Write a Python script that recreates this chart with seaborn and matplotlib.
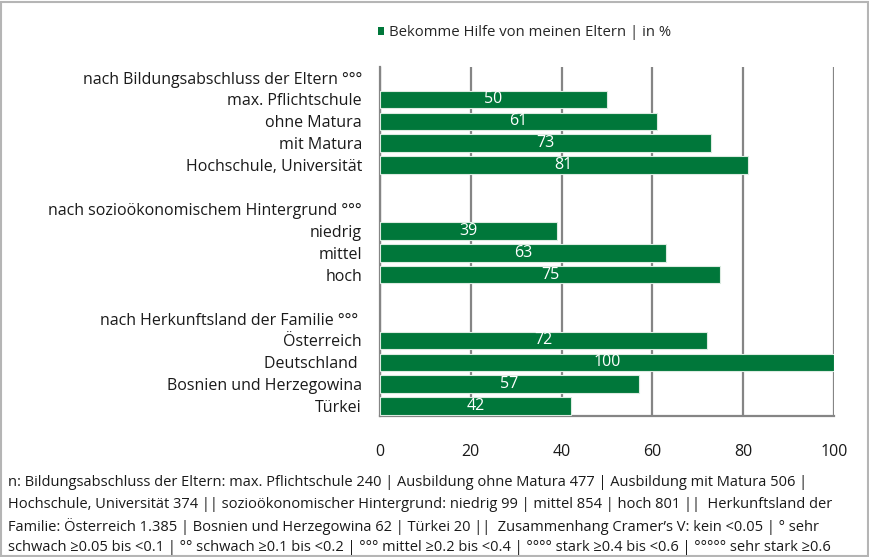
import numpy as np
import pandas as pd
import matplotlib
matplotlib.use("Agg")
import matplotlib.pyplot as plt
from matplotlib.patches import Rectangle, Patch
import seaborn as sns

# ---- data ----
row_labels = [
    "nach Bildungsabschluss der Eltern °°°",
    "max. Pflichtschule",
    "ohne Matura",
    "mit Matura",
    "Hochschule, Universität",
    " ",
    "nach sozioökonomischem Hintergrund °°°",
    "niedrig",
    "mittel",
    "hoch",
    "  ",
    "nach Herkunftsland der Familie °°° ",
    "Österreich",
    "Deutschland ",
    "Bosnien und Herzegowina",
    "Türkei",
]
bar_labels = [
    "max. Pflichtschule", "ohne Matura", "mit Matura", "Hochschule, Universität",
    "niedrig", "mittel", "hoch",
    "Österreich", "Deutschland ", "Bosnien und Herzegowina", "Türkei",
]
bar_values = [50, 61, 73, 81, 39, 63, 75, 72, 100, 57, 42]
x_ticks = [0, 20, 40, 60, 80, 100]
series_name = "Bekomme Hilfe von meinen Eltern | in %"
footnote_lines = [
    "n: Bildungsabschluss der Eltern: max. Pflichtschule 240 | Ausbildung ohne Matura 477 | Ausbildung mit Matura 506 |",
    "Hochschule, Universität 374 || sozioökonomischer Hintergrund: niedrig 99 | mittel 854 | hoch 801 ||  Herkunftsland der",
    "Familie: Österreich 1.385 | Bosnien und Herzegowina 62 | Türkei 20 ||  Zusammenhang Cramer’s V: kein <0.05 | ° sehr",
    "schwach ≥0.05 bis <0.1 | °° schwach ≥0.1 bis <0.2 | °°° mittel ≥0.2 bis <0.4 | °°°° stark ≥0.4 bis <0.6 | °°°°° sehr stark ≥0.6",
]

GREEN = "#00773a"
GRID = "#858585"

sns.set_style("white")
plt.rcParams["font.family"] = ["Open Sans", "DejaVu Sans"]

df = pd.DataFrame({"label": bar_labels, "value": bar_values})

fig = plt.figure(figsize=(8.7, 5.57), dpi=100)
W, H = 870, 557
ax = fig.add_axes([380 / W, 1 - 416 / H, (834 - 380) / W, (416 - 67) / H])

sns.barplot(data=df, x="value", y="label", order=row_labels, color=GREEN,
            width=0.8, edgecolor="#dcebe1", linewidth=0.8, saturation=1,
            ax=ax, zorder=3)
leg = ax.get_legend()
if leg is not None:
    leg.remove()

for cont in ax.containers:
    ax.bar_label(cont, labels=[f"{v:g}" for v in bar_values], label_type="center",
                 color="white", fontsize=11.5, padding=0)

ax.set_xlim(0, 100)
ax.set_ylim(15.45, -0.48)
ax.set_xticks(x_ticks)
ax.set_xticklabels([str(t) for t in x_ticks])
ax.set_xlabel("")
ax.set_ylabel("")
ax.tick_params(axis="x", length=0, pad=20, labelsize=11.5, colors="#1a1a1a")
ax.tick_params(axis="y", length=0, pad=13, labelsize=11.5, colors="#1a1a1a")

ax.xaxis.grid(True, color=GRID, linewidth=1.6, zorder=0)
ax.yaxis.grid(False)
ax.set_axisbelow(True)
for side in ["top", "right"]:
    ax.spines[side].set_visible(False)
for side in ["left", "bottom"]:
    ax.spines[side].set_visible(True)
    ax.spines[side].set_color(GRID)
    ax.spines[side].set_linewidth(1.6)

# legend
handle = Patch(facecolor=GREEN, edgecolor="none")
fig.legend(handles=[handle], labels=[series_name], loc="center left",
           bbox_to_anchor=(378 / W, 1 - 33 / H), frameon=False, fontsize=10.7,
           handlelength=0.4, handleheight=0.4, handletextpad=0.35,
           borderpad=0, borderaxespad=0)

# footnote
for i, line in enumerate(footnote_lines):
    fig.text(8 / W, 1 - (483 + i * 21.6) / H, line, fontsize=10.5,
             ha="left", va="center", color="#1a1a1a")

# outer frame
fig.patches.append(Rectangle((1.5 / W, 1.5 / H), 1 - 3 / W, 1 - 3 / H,
                             transform=fig.transFigure, fill=False,
                             edgecolor="#b5b5b5", linewidth=1.5))

fig.savefig("out.png", dpi=100)
